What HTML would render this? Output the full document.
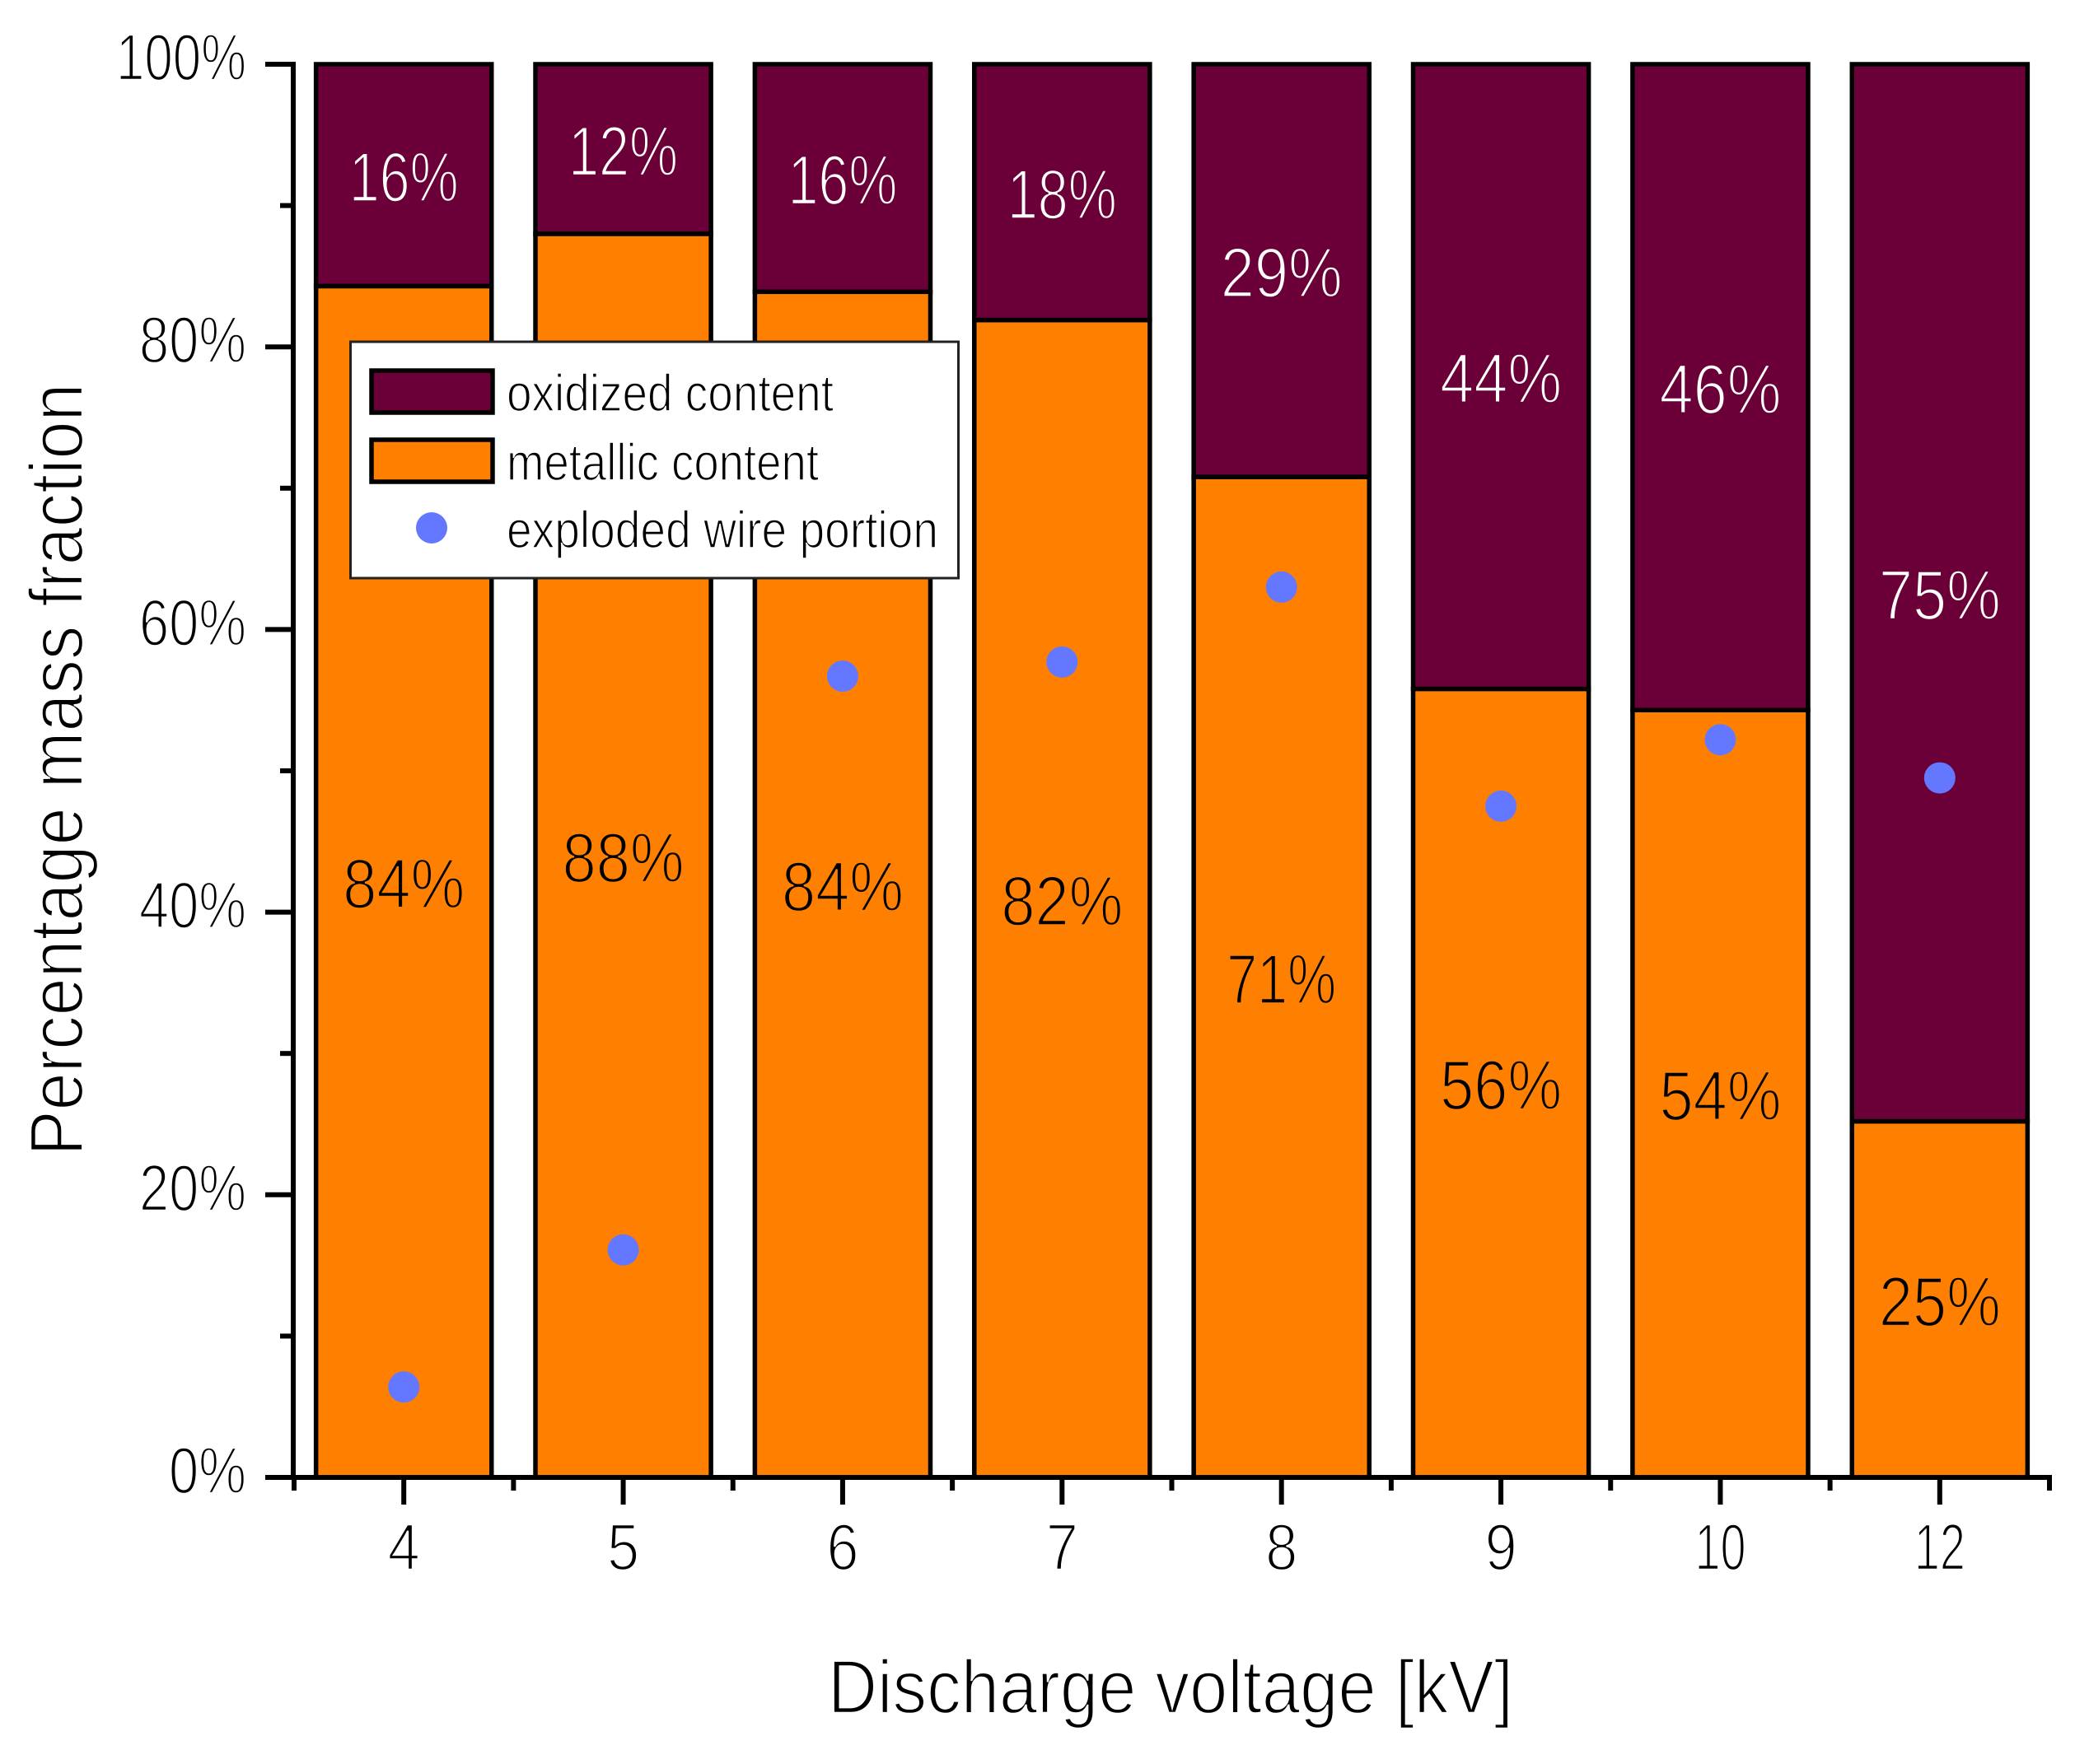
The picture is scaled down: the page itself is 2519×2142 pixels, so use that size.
<!DOCTYPE html>
<html lang="en">
<head>
<meta charset="utf-8">
<title>Percentage mass fraction vs discharge voltage</title>
<style>
html,body{margin:0;padding:0;background:#fff;}
svg{display:block;}
text{font-family:"Liberation Sans",sans-serif;}
.t-white{fill:#000;stroke:#fff;stroke-width:2.4;}
.t-legend{fill:#000;stroke:#fff;stroke-width:1.6;}
.t-orange{fill:#000;stroke:#ff8000;stroke-width:2.4;}
.t-dark{fill:#fff;stroke:#6b0038;stroke-width:2.4;}
</style>
</head>
<body>
<svg id="chart" xmlns="http://www.w3.org/2000/svg" width="2519" height="2142" viewBox="0 0 2519 2142">
  <rect x="0" y="0" width="2519" height="2142" fill="#ffffff"/>
  <g id="bars"></g>
  <g id="axes"></g>
  <g id="labels"></g>
  <g id="dots"></g>
  <text class="t-white" font-size="92" text-anchor="middle" textLength="938" lengthAdjust="spacingAndGlyphs" transform="translate(100,934.5) rotate(-90)">Percentage mass fraction</text>
  <text class="t-white" font-size="92" text-anchor="middle" textLength="832" lengthAdjust="spacingAndGlyphs" x="1421" y="2080">Discharge voltage [kV]</text>
  <g id="legend">
    <rect x="425.5" y="415" width="738" height="287" fill="#ffffff" stroke="#222222" stroke-width="3"/>
    <rect x="451" y="450" width="147" height="51" fill="#6b0038" stroke="#000000" stroke-width="5.5"/>
    <text class="t-legend" font-size="63" x="615" y="499" textLength="397" lengthAdjust="spacingAndGlyphs">oxidized content</text>
    <rect x="451" y="534" width="147" height="51" fill="#ff8000" stroke="#000000" stroke-width="5.5"/>
    <text class="t-legend" font-size="63" x="615" y="583" textLength="379" lengthAdjust="spacingAndGlyphs">metallic content</text>
    <circle cx="524" cy="641" r="19" fill="#6478ff"/>
    <text class="t-legend" font-size="63" x="615" y="665" textLength="524" lengthAdjust="spacingAndGlyphs">exploded wire portion</text>
  </g>
</svg>
<script>
const categories = ["4", "5", "6", "7", "8", "9", "10", "12"];
const metallic = [84.3, 88.0, 83.9, 81.9, 70.8, 55.8, 54.3, 25.2];
const oxidized = [15.7, 12.0, 16.1, 18.1, 29.2, 44.2, 45.7, 74.8];
const explodedPortion = [6.4, 16.1, 56.7, 57.7, 63.0, 47.5, 52.2, 49.5];
const yTicks = [0, 20, 40, 60, 80, 100];
const yMinorTicks = [10, 30, 50, 70, 90];

const NS = "http://www.w3.org/2000/svg";
const plotLeft = 357, plotRight = 2488, y0 = 1794, y100 = 78;
const step = (plotRight - plotLeft) / categories.length;
const barW = step * 0.8;
const xPos = i => plotLeft + step * (i + 0.5);
const yPos = v => y0 + (y100 - y0) * v / 100;

function mk(parent, tag, attrs, txt) {
  const el = document.createElementNS(NS, tag);
  for (const k in attrs) el.setAttribute(k, attrs[k]);
  if (txt !== undefined) el.textContent = txt;
  parent.appendChild(el);
  return el;
}
function labelWidth(str, wide, narrow) {
  return str.indexOf("1") >= 0 ? narrow : wide;
}

const gBars = document.getElementById("bars");
const gAxes = document.getElementById("axes");
const gLabels = document.getElementById("labels");
const gDots = document.getElementById("dots");

categories.forEach((c, i) => {
  const x = xPos(i) - barW / 2;
  const yMetal = yPos(metallic[i]);
  const yTop = yPos(metallic[i] + oxidized[i]);

  const metalBar = mk(gBars, "rect", {x: x, y: yMetal, width: barW, height: y0 - yMetal, fill: "#ff8000", stroke: "#000", "stroke-width": 5.5});
  
  

  const oxBar = mk(gBars, "rect", {x: x, y: yTop, width: barW, height: yMetal - yTop, fill: "#6b0038", stroke: "#000", "stroke-width": 5.5});
  
  

  const oxStr = Math.round(oxidized[i]) + "%";
  const oxLabel = mk(gLabels, "text", {class: "t-dark", "font-size": 85, x: xPos(i), y: (yTop + yMetal) / 2 + 32, "text-anchor": "middle", textLength: labelWidth(oxStr, 148, 133), lengthAdjust: "spacingAndGlyphs"}, oxStr);
  
  

  const mStr = Math.round(metallic[i]) + "%";
  const mLabel = mk(gLabels, "text", {class: "t-orange", "font-size": 85, x: xPos(i), y: (yMetal + y0) / 2 + 32, "text-anchor": "middle", textLength: labelWidth(mStr, 148, 133), lengthAdjust: "spacingAndGlyphs"}, mStr);
  
  

  const dot = mk(gDots, "circle", {cx: xPos(i), cy: yPos(explodedPortion[i]), r: 19, fill: "#6478ff"});
  
  

  const tick = mk(gAxes, "line", {x1: xPos(i), x2: xPos(i), y1: y0, y2: 1827, stroke: "#000", "stroke-width": 6});
  
  

  const tickLabel = mk(gAxes, "text", {class: "t-white", "font-size": 80, x: xPos(i), y: 1906, "text-anchor": "middle", textLength: c.length > 1 ? 62 : 39, lengthAdjust: "spacingAndGlyphs"}, c);
  
  
});

for (let i = 0; i <= categories.length; i++) {
  const m = mk(gAxes, "line", {x1: plotLeft + step * i, x2: plotLeft + step * i, y1: y0, y2: 1810, stroke: "#000", "stroke-width": 6});
  
  
}

const yAxis = mk(gAxes, "line", {x1: 356, x2: 356, y1: y100 - 3, y2: y0 + 3, stroke: "#000", "stroke-width": 6});



const xAxis = mk(gAxes, "line", {x1: 356, x2: plotRight + 3, y1: y0, y2: y0, stroke: "#000", "stroke-width": 6});



yTicks.forEach(v => {
  const t = mk(gAxes, "line", {x1: 322, x2: 356, y1: yPos(v), y2: yPos(v), stroke: "#000", "stroke-width": 6});
  
  

  const str = v + "%";
  const widths = str.length === 4 ? 158 : (str.length === 3 ? 130 : 94);
  const l = mk(gAxes, "text", {class: "t-white", "font-size": 80, x: 299, y: yPos(v) + 19, "text-anchor": "end", textLength: widths, lengthAdjust: "spacingAndGlyphs"}, str);
  
  
});

yMinorTicks.forEach(v => {
  const t = mk(gAxes, "line", {x1: 340, x2: 356, y1: yPos(v), y2: yPos(v), stroke: "#000", "stroke-width": 6});
  
  
});
</script>
</body>
</html>
